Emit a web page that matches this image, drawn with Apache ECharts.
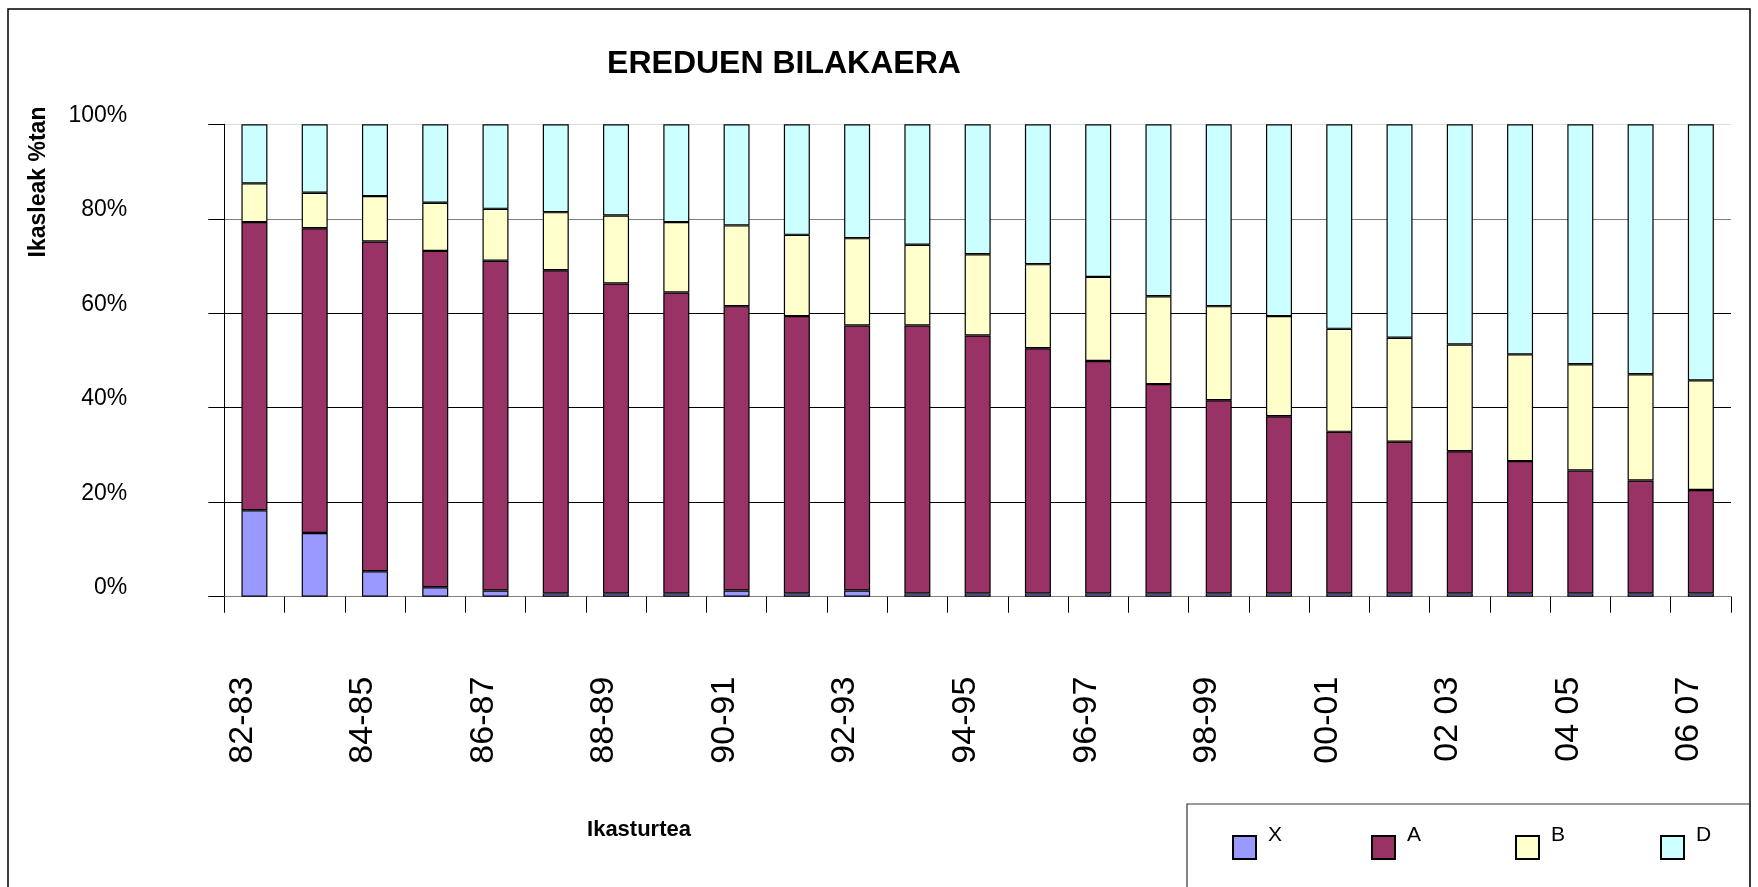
<!DOCTYPE html>
<html>
<head>
<meta charset="utf-8">
<script src="https://cdn.jsdelivr.net/npm/echarts@6/dist/echarts.min.js"></script>
<style>
  html, body { margin: 0; padding: 0; background: #fff; }
  #chart { width: 1758px; height: 887px; }
</style>
</head>
<body>
<div id="chart"></div>
<script>
const categories = ['82-83','83-84','84-85','85-86','86-87','87-88','88-89','89-90','90-91','91-92','92-93','93-94','94-95','95-96','96-97','97-98','98-99','99-00','00-01','01-02','02 03','03 04','04 05','05 06','06 07'];
const seriesNames = ['X', 'A', 'B', 'D'];
const valuesX = [18.3,13.5,5.4,2.0,1.3,0.7,0.7,0.7,1.3,0.7,1.3,0.7,0.7,0.7,0.7,0.7,0.7,0.7,0.7,0.7,0.7,0.7,0.7,0.7,0.7];
const valuesA = [61.0,64.5,69.8,71.2,69.8,68.4,65.6,63.7,60.2,58.7,56.1,56.7,54.6,51.9,49.2,44.3,40.9,37.5,34.2,32.1,30.1,28.0,26.0,23.9,21.9];
const valuesB = [8.2,7.5,9.6,10.2,11.0,12.3,14.4,14.9,17.1,17.2,18.5,17.1,17.2,17.8,17.8,18.6,19.9,21.2,21.8,22.0,22.6,22.6,22.5,22.5,23.2];
const valuesD = [12.5,14.5,15.2,16.6,17.9,18.6,19.3,20.7,21.4,23.4,24.1,25.5,27.5,29.6,32.3,36.4,38.5,40.6,43.3,45.2,46.6,48.7,50.8,52.9,54.2];
const yTicks = [0, 20, 40, 60, 80, 100];
const titleText = 'EREDUEN BILAKAERA';
const yTitle = 'Ikasleak %tan';
const xTitle = 'Ikasturtea';

const FONT = "'Liberation Sans', Arial, sans-serif";
const colors = ['#9999FF', '#993366', '#FFFFCC', '#CCFFFF'];
const allValues = [valuesX, valuesA, valuesB, valuesD];

const chart = echarts.init(document.getElementById('chart'), null, { renderer: 'canvas' });

const legendLefts = [1232, 1371, 1515, 1660];
const legends = seriesNames.map((n, i) => ({
  data: [n],
  left: legendLefts[i],
  top: 825,
  padding: 0,
  itemWidth: 23,
  itemHeight: 23,
  itemGap: 0,
  icon: 'rect',
  selectedMode: false,
  formatter: '{t|{name}}',
  textStyle: {
    fontFamily: FONT,
    fontSize: 21,
    color: '#000',
    rich: {
      t: { fontFamily: FONT, fontSize: 21, color: '#000', padding: [0, 0, 24, 7] }
    }
  }
}));

const option = {
  backgroundColor: '#fff',
  animation: false,
  color: colors,
  grid: { left: 224.3, right: 27, top: 124.3, bottom: 290.3, containLabel: false },
  legend: legends,
  xAxis: {
    type: 'category',
    data: categories,
    boundaryGap: true,
    axisLine: { show: true, lineStyle: { color: '#808080', width: 1 } },
    axisTick: { show: true, interval: 0, length: 16, lineStyle: { color: '#000', width: 1 } },
    axisLabel: {
      interval: 1,
      rotate: 90,
      margin: 80,
      fontFamily: FONT,
      fontSize: 34,
      color: '#000',
      formatter: function (v) { return '{t|' + v + '}'; },
      rich: {
        t: { fontFamily: FONT, fontSize: 34, color: '#000', padding: [0, 0, 24, 0] }
      }
    },
    splitLine: { show: false }
  },
  yAxis: {
    type: 'value',
    min: 0,
    max: 100,
    interval: 20,
    axisLine: { show: true, lineStyle: { color: '#000', width: 1 } },
    axisTick: { show: true, length: 16, lineStyle: { color: '#000', width: 1 } },
    axisLabel: {
      formatter: function (v) { return yTicks.indexOf(v) >= 0 ? '{t|' + v + '%}' : ''; },
      margin: 97,
      fontFamily: FONT,
      fontSize: 23,
      color: '#000',
      rich: {
        t: { fontFamily: FONT, fontSize: 23, color: '#000', padding: [0, 0, 18, 0] }
      }
    },
    splitLine: {
      show: true,
      lineStyle: { color: ['#808080', '#000', '#000', '#000', '#808080', '#dcdcdc'], width: 1 }
    }
  },
  series: seriesNames.map((n, i) => ({
    name: n,
    type: 'bar',
    stack: 'total',
    barWidth: 26,
    data: allValues[i],
    itemStyle: { color: colors[i], borderColor: '#000', borderWidth: 1.2 },
    emphasis: { disabled: true }
  })),
  graphic: [
    {
      type: 'rect',
      shape: { x: 8, y: 9, width: 1742, height: 1000 },
      style: { fill: 'none', stroke: '#000', lineWidth: 1.5 },
      silent: true
    },
    {
      type: 'rect',
      shape: { x: 1187, y: 804, width: 563, height: 300 },
      style: { fill: 'none', stroke: '#333', lineWidth: 1.2 },
      silent: true
    },
    {
      type: 'text',
      x: 784, y: 64,
      style: { text: titleText, font: 'bold 32px ' + FONT, fill: '#000', align: 'center', verticalAlign: 'middle' },
      silent: true
    },
    {
      type: 'text',
      x: 39, y: 182,
      rotation: Math.PI / 2,
      style: { text: yTitle, font: 'bold 23px ' + FONT, fill: '#000', align: 'center', verticalAlign: 'middle' },
      silent: true
    },
    {
      type: 'text',
      x: 639, y: 830,
      style: { text: xTitle, font: 'bold 22px ' + FONT, fill: '#000', align: 'center', verticalAlign: 'middle' },
      silent: true
    }
  ]
};

chart.setOption(option);
</script>
</body>
</html>
